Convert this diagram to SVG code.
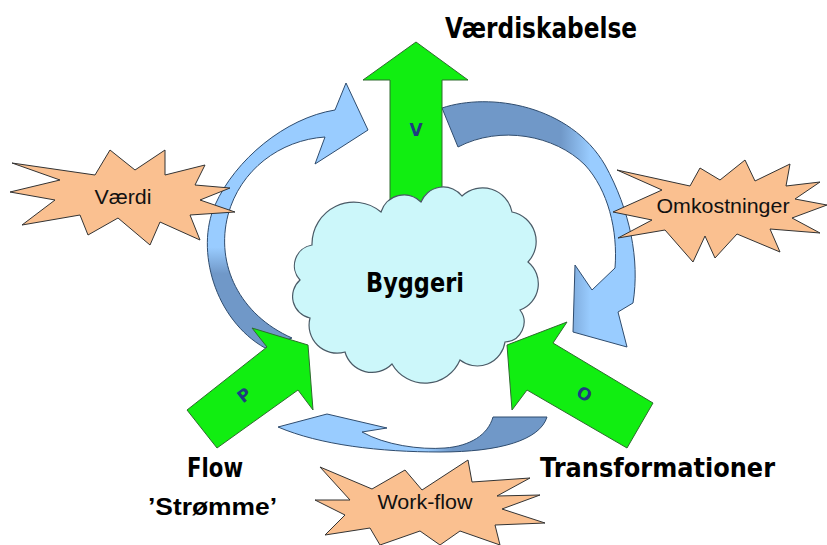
<svg xmlns="http://www.w3.org/2000/svg" width="827" height="545" viewBox="0 0 827 545">
<defs>
<style>
.green{fill:#11EE11;stroke:#2E6B2E;stroke-width:1}
.star{fill:#FAC090;stroke:#333;stroke-width:1}
.cloud{fill:#CCF7FA;stroke:#4A5A66;stroke-width:1.2}
.curve{stroke:#2F4C6E;stroke-width:1}
.big{font-family:"DejaVu Sans",sans-serif;font-weight:bold;fill:#000}
.sans{font-family:"Liberation Sans",Arial,sans-serif;fill:#111}
.lab{font-family:"DejaVu Sans",sans-serif;font-weight:bold;fill:#1F3C80;font-size:17px;text-anchor:middle}
</style>
<linearGradient id="gLeft" gradientUnits="userSpaceOnUse" x1="0" y1="83" x2="0" y2="348">
<stop offset="0.62" stop-color="#99CCFF"/><stop offset="0.72" stop-color="#7098C8"/>
</linearGradient>
<linearGradient id="gRight" gradientUnits="userSpaceOnUse" x1="442" y1="0" x2="640" y2="0">
<stop offset="0.6" stop-color="#7098C8"/><stop offset="0.75" stop-color="#99CCFF"/>
</linearGradient>
<linearGradient id="gBottom" gradientUnits="userSpaceOnUse" x1="278" y1="0" x2="547" y2="0">
<stop offset="0.55" stop-color="#99CCFF"/><stop offset="0.65" stop-color="#7098C8"/>
</linearGradient>
</defs>
<rect width="827" height="545" fill="#fff"/>

<g id="connectors">
<path id="arrow-left" class="curve" fill="url(#gLeft)" d="M265,348 C215,320 195,250 215,205 C235,160 285,118 335,110 L346,83 L368,130 L315,164 L325,137 C280,140 240,170 228,215 C215,265 240,315 292,338 Z"/>
<path id="arrow-right" class="curve" fill="url(#gRight)" d="M442,108 C490,92 570,105 605,165 C630,210 640,260 633,303 L618,312 L627,347 L573,332 L575,265 L592,290 L615,268 C618,230 608,190 585,165 C555,135 500,125 458,147 Z"/>
<path id="arrow-bottom" class="curve" fill="url(#gBottom)" d="M547,417 C540,440 500,452 440,452 C380,452 320,445 278,427 L327,414 L387,428 L362,432 C385,445 420,450 445,448 C470,446 488,435 493,417 Z"/>
</g>

<g id="node-v">
<polygon class="green" points="390,205 390,80 363,80 416,42 468,80 442,80 442,205"/>
<text class="lab" x="416" y="136">V</text>
</g>

<g id="node-byggeri">
<path class="cloud" d="M312,245 A42,42 0 0 1 381,212 A24,24 0 0 1 421,202 A24,24 0 0 1 462,196 A30,30 0 0 1 512,212 A30,30 0 0 1 528,262 A28,28 0 0 1 520,310 A20,20 0 0 1 505,342 A28,28 0 0 1 460,360 A38,38 0 0 1 392,364 A28,28 0 0 1 345,352 A28,28 0 0 1 310,318 A22,22 0 0 1 300,280 A21,21 0 0 1 312,245 Z"/>
<text class="big" x="366" y="292" font-size="26" textLength="98" lengthAdjust="spacingAndGlyphs">Byggeri</text>
</g>

<g id="node-p">
<polygon class="green" points="187,410 267,347 252,328 308,345 313,410 298,390 217,448"/>
<text class="lab" transform="translate(248,400) rotate(-38)" x="0" y="0">P</text>
</g>

<g id="node-o">
<polygon class="green" points="507,345 567,322 553,343 653,403 627,448 527,390 512,410"/>
<text class="lab" transform="translate(581,399) rotate(32)" x="0" y="0">O</text>
</g>

<g id="node-vaerdi">
<polygon class="star" points="12,163 60,180 10,192 55,200 22,225 80,215 88,235 118,218 150,245 160,222 200,240 190,215 235,212 200,200 230,188 195,185 205,165 165,175 165,150 135,170 110,150 95,175"/>
<text class="sans" x="123" y="204" font-size="20" text-anchor="middle" textLength="57" lengthAdjust="spacingAndGlyphs">Værdi</text>
</g>

<g id="node-omkostninger">
<polygon class="star" points="617,170 662,190 613,212 652,220 618,238 665,230 693,262 705,236 715,258 737,234 780,252 770,229 820,233 792,218 827,205 795,199 820,182 786,186 790,164 755,181 745,160 720,180 700,168 690,186"/>
<text class="sans" x="723" y="213" font-size="20" text-anchor="middle" textLength="133" lengthAdjust="spacingAndGlyphs">Omkostninger</text>
</g>

<g id="node-workflow">
<polygon class="star" points="320,467 372,489 405,470 422,490 468,460 472,482 530,478 497,496 540,495 502,509 545,523 495,525 500,545 460,531 440,545 420,531 380,545 370,528 325,535 345,515 315,500 350,500"/>
<text class="sans" x="425" y="509" font-size="21" text-anchor="middle" textLength="95" lengthAdjust="spacingAndGlyphs">Work-flow</text>
</g>

<g id="labels">
<text class="big" x="445" y="38" font-size="28" textLength="192" lengthAdjust="spacingAndGlyphs">Værdiskabelse</text>
<text class="big" x="187" y="477" font-size="26" textLength="56" lengthAdjust="spacingAndGlyphs">Flow</text>
<text x="148" y="515" font-family="Liberation Sans, Arial, sans-serif" font-weight="bold" font-size="24" fill="#000" textLength="129" lengthAdjust="spacingAndGlyphs">’Strømme’</text>
<text class="big" x="540" y="477" font-size="26" textLength="235" lengthAdjust="spacingAndGlyphs">Transformationer</text>
</g>
</svg>
